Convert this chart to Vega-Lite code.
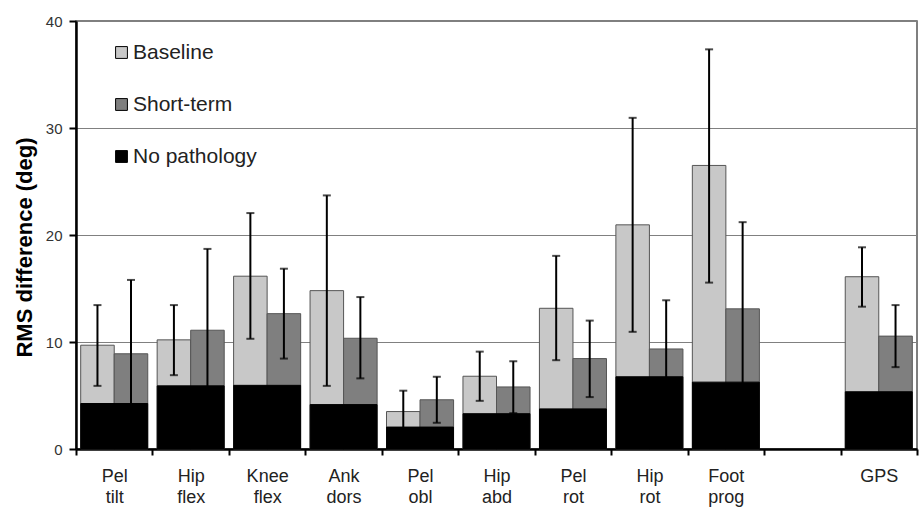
{
  "$schema": "https://vega.github.io/schema/vega-lite/v6.json",
  "width": 841,
  "height": 428,
  "autosize": {"type": "none"},
  "padding": {"left": 76, "top": 21, "right": 2, "bottom": 59},
  "background": "white",
  "config": {
    "font": "Liberation Sans",
    "view": {"stroke": "#555", "strokeWidth": 1.5}
  },
  "datasets": {
    "groups": [
      {"joint": "Pel tilt", "series": "Baseline", "mean": 9.7, "lo": 5.9, "hi": 13.45},
      {"joint": "Pel tilt", "series": "Short-term", "mean": 8.9, "lo": 2.0, "hi": 15.8},
      {"joint": "Hip flex", "series": "Baseline", "mean": 10.2, "lo": 6.9, "hi": 13.45},
      {"joint": "Hip flex", "series": "Short-term", "mean": 11.1, "lo": 3.5, "hi": 18.7},
      {"joint": "Knee flex", "series": "Baseline", "mean": 16.15, "lo": 10.3, "hi": 22.05},
      {"joint": "Knee flex", "series": "Short-term", "mean": 12.65, "lo": 8.45, "hi": 16.85},
      {"joint": "Ank dors", "series": "Baseline", "mean": 14.8, "lo": 5.9, "hi": 23.7},
      {"joint": "Ank dors", "series": "Short-term", "mean": 10.35, "lo": 6.6, "hi": 14.2},
      {"joint": "Pel obl", "series": "Baseline", "mean": 3.5, "lo": 1.55, "hi": 5.45},
      {"joint": "Pel obl", "series": "Short-term", "mean": 4.6, "lo": 2.45, "hi": 6.75},
      {"joint": "Hip abd", "series": "Baseline", "mean": 6.8, "lo": 4.5, "hi": 9.1},
      {"joint": "Hip abd", "series": "Short-term", "mean": 5.8, "lo": 3.35, "hi": 8.2},
      {"joint": "Pel rot", "series": "Baseline", "mean": 13.15, "lo": 8.3, "hi": 18.05},
      {"joint": "Pel rot", "series": "Short-term", "mean": 8.45, "lo": 4.85, "hi": 12.0},
      {"joint": "Hip rot", "series": "Baseline", "mean": 20.95, "lo": 10.95, "hi": 30.95},
      {"joint": "Hip rot", "series": "Short-term", "mean": 9.35, "lo": 4.8, "hi": 13.9},
      {"joint": "Foot prog", "series": "Baseline", "mean": 26.5, "lo": 15.55, "hi": 37.35},
      {"joint": "Foot prog", "series": "Short-term", "mean": 13.1, "lo": 5.0, "hi": 21.2},
      {"joint": "GPS", "series": "Baseline", "mean": 16.1, "lo": 13.3, "hi": 18.85},
      {"joint": "GPS", "series": "Short-term", "mean": 10.55, "lo": 7.65, "hi": 13.45}
    ],
    "normal": [
      {"joint": "Pel tilt", "mean": 4.25},
      {"joint": "Hip flex", "mean": 5.9},
      {"joint": "Knee flex", "mean": 5.95},
      {"joint": "Ank dors", "mean": 4.15},
      {"joint": "Pel obl", "mean": 2.05},
      {"joint": "Hip abd", "mean": 3.3},
      {"joint": "Pel rot", "mean": 3.75},
      {"joint": "Hip rot", "mean": 6.75},
      {"joint": "Foot prog", "mean": 6.25},
      {"joint": "GPS", "mean": 5.35}
    ]
  },
  "encoding": {
    "x": {
      "field": "joint",
      "type": "nominal",
      "scale": {
        "domain": ["Pel tilt", "Hip flex", "Knee flex", "Ank dors", "Pel obl", "Hip abd", "Pel rot", "Hip rot", "Foot prog", "gap", "GPS"],
        "paddingInner": 0,
        "paddingOuter": 0
      },
      "axis": {
        "title": null,
        "labelExpr": "isString(datum.value) && datum.value != 'gap' ? split(datum.value, ' ') : ''",
        "labelAngle": 0,
        "labelFontSize": 18,
        "labelColor": "#222",
        "labelLineHeight": 21,
        "labelPadding": 12,
        "labelBaseline": "top",
        "tickBand": "extent",
        "tickSize": 6,
        "tickWidth": 2,
        "tickColor": "#000",
        "domainColor": "#000",
        "domainWidth": 2.5,
        "grid": false
      }
    }
  },
  "layer": [
    {
      "data": {"name": "groups"},
      "mark": {"type": "bar", "stroke": "#555", "strokeWidth": 1},
      "encoding": {
        "xOffset": {"field": "series", "type": "nominal", "scale": {"domain": ["Baseline", "Short-term"], "paddingInner": 0, "paddingOuter": 0.14}},
        "y": {
          "field": "mean",
          "type": "quantitative",
          "scale": {"domain": [0, 40], "nice": false},
          "axis": {
            "title": "RMS difference  (deg)",
            "titleFontSize": 22,
            "titleFontWeight": "bold",
            "titleColor": "#000",
            "titlePadding": 9,
            "titleY": 226,
            "values": [0, 10, 20, 30, 40],
            "labelFontSize": 15,
            "labelColor": "#333",
            "labelPadding": 7,
            "tickSize": 7,
            "tickWidth": 2,
            "tickColor": "#000",
            "domainColor": "#000",
            "domainWidth": 2.5,
            "gridColor": "#808080",
            "gridWidth": 1
          }
        },
        "color": {
          "field": "series",
          "type": "nominal",
          "scale": {"domain": ["Baseline", "Short-term", "No pathology"], "range": ["#c8c8c8", "#7f7f7f", "#000000"]},
          "legend": {
            "title": null,
            "orient": "none",
            "legendX": 35,
            "legendY": 21,
            "symbolType": "square",
            "symbolSize": 140,
            "symbolStrokeColor": "#555",
            "symbolStrokeWidth": 1,
            "labelFontSize": 21,
            "labelColor": "#222",
            "labelOffset": 1,
            "rowPadding": 30
          }
        }
      }
    },
    {
      "data": {"name": "normal"},
      "mark": {"type": "bar", "stroke": "#000", "strokeWidth": 1, "width": {"band": 0.875}},
      "encoding": {
        "y": {"field": "mean", "type": "quantitative"},
        "color": {"datum": "No pathology"}
      }
    },
    {
      "data": {"name": "groups"},
      "mark": {"type": "rule", "color": "#000", "strokeWidth": 2},
      "encoding": {
        "xOffset": {"field": "series", "type": "nominal"},
        "y": {"field": "lo", "type": "quantitative"},
        "y2": {"field": "hi"}
      }
    },
    {
      "data": {"name": "groups"},
      "mark": {"type": "tick", "color": "#000", "size": 8, "thickness": 2},
      "encoding": {
        "xOffset": {"field": "series", "type": "nominal"},
        "y": {"field": "lo", "type": "quantitative"}
      }
    },
    {
      "data": {"name": "groups"},
      "mark": {"type": "tick", "color": "#000", "size": 8, "thickness": 2},
      "encoding": {
        "xOffset": {"field": "series", "type": "nominal"},
        "y": {"field": "hi", "type": "quantitative"}
      }
    }
  ]
}
